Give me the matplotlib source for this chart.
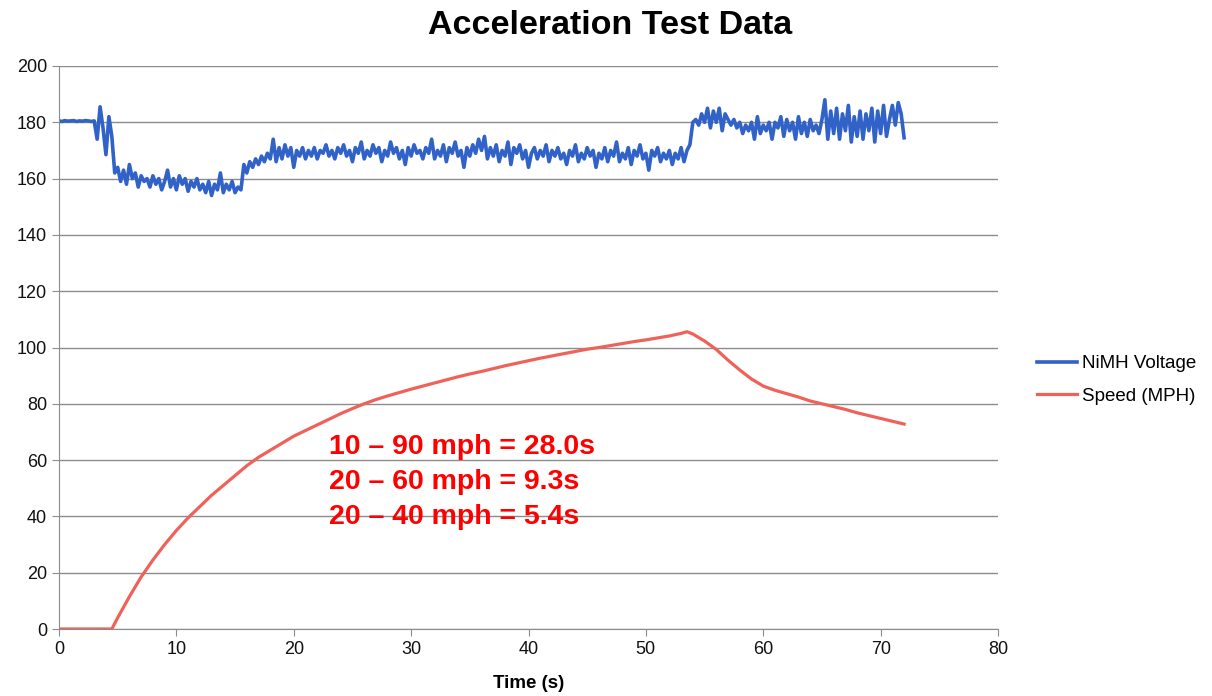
import numpy as np
import matplotlib
matplotlib.use("Agg")
import matplotlib.pyplot as plt

plt.rcParams['font.family'] = ['Liberation Sans', 'DejaVu Sans']

# speed trace (s, mph)
speed_t = [0, 1, 2, 3, 4, 4.5, 5, 6, 7, 8, 9, 10, 11, 12, 13, 14, 15, 16, 17, 18, 19, 20,
           21, 22, 23, 24, 25, 26, 27, 28, 29, 30, 31, 32, 33, 34, 35, 36, 37, 38, 39, 40,
           41, 42, 43, 44, 45, 46, 47, 48, 49, 50, 51, 52, 53, 53.5, 54, 55, 56, 57, 58, 59,
           60, 61, 62, 63, 64, 65, 66, 67, 68, 69, 70, 71, 72]
speed_v = [0, 0, 0, 0, 0, 0, 4, 11.5, 18.5, 24.5, 30, 35, 39.5, 43.5, 47.5, 51, 54.5, 58, 61, 63.5, 66, 68.5,
           70.5, 72.5, 74.5, 76.5, 78.3, 80, 81.5, 82.8, 84, 85.2, 86.3, 87.4, 88.5, 89.6, 90.6, 91.5, 92.5, 93.5, 94.4, 95.3,
           96.2, 97, 97.8, 98.6, 99.4, 100, 100.7, 101.4, 102.1, 102.7, 103.4, 104.1, 105, 105.6, 104.8, 102.3, 99.3, 95.5, 92, 88.8,
           86.3, 84.8, 83.6, 82.4, 81, 80, 79, 78, 76.8, 75.8, 74.8, 73.8, 72.8]

# NiMH pack voltage, sampled every 0.25 s from 0 to 72 s
volt_v = [
    180.5, 180.3, 180.6, 180.4, 180.5, 180.6, 180.3, 180.5, 180.4, 180.6, 180.5, 180.3, 180.5,
    174, 185.5, 178, 168.5, 182, 175, 162,
    164, 159, 163, 158, 165, 160, 162, 157, 161, 159, 160, 157, 161, 158, 160, 156,
    159, 163, 157, 160, 156, 161, 158, 160, 155.5, 159, 157, 160, 156, 158, 155, 159,
    154, 158, 156, 162, 155, 158, 156, 159, 155, 157, 156,
    165, 162, 166, 164, 167, 165, 168, 166, 169, 167, 174, 166, 171, 167, 172, 168, 171,
    164, 170, 168, 171, 167, 170, 168, 171, 167, 170, 169, 172, 168, 170, 167, 171, 169,
    172, 168, 170, 166, 171, 169, 173, 167, 170, 168, 172, 169, 171, 166, 170, 168, 173,
    169, 171, 167, 170, 165, 171, 168, 172, 169, 170, 167, 171, 169, 174, 167, 170, 168,
    172, 166, 171, 169, 173, 168, 170, 164, 171, 168, 172, 169, 174, 170, 175, 167, 171,
    168, 172, 166, 170, 168, 173, 165, 171, 169, 172, 167, 170, 164, 169, 171, 167, 170,
    168, 172, 166, 170, 168, 171, 167, 169, 165, 170, 168, 172, 166, 169, 167, 171, 168,
    170, 164, 169, 167, 171, 166, 170, 168, 173, 166, 169, 167, 171, 165, 170, 168, 172,
    167, 169, 163, 170, 168, 171, 166, 169, 167, 170, 165, 169, 167, 171, 166, 170,
    172, 180, 181, 179, 183, 180, 185, 178, 184, 180, 185, 177, 183, 181, 179, 181, 178,
    180, 176, 179, 177, 180, 174, 182, 176, 179, 177, 180, 174, 180, 178, 182, 175, 181,
    177, 180, 174, 182, 176, 180, 175, 181, 177, 179, 176, 181, 188, 174, 184, 176, 185,
    174, 183, 177, 186, 173, 182, 175, 184, 174, 183, 177, 185, 173, 184, 176, 186, 175,
    181, 186, 179, 187, 183, 174.5]
volt_t = np.arange(len(volt_v)) * 0.25

notes = ["10 \u2013 90 mph = 28.0s", "20 \u2013 60 mph = 9.3s", "20 \u2013 40 mph = 5.4s"]

fig = plt.figure(figsize=(12.12, 6.96), dpi=100)
ax = fig.add_axes([59 / 1212, 1 - 629 / 696, (998 - 59) / 1212, (629 - 66) / 696])

ax.plot(volt_t, volt_v, color='#3062C8', lw=2.6, label='NiMH Voltage')
ax.plot(speed_t, speed_v, color='#EE625A', lw=2.3, label='Speed (MPH)')

ax.set_xlim(0, 80)
ax.set_ylim(0, 200)
ax.set_xticks(range(0, 81, 10))
ax.set_yticks(range(0, 201, 20))
ax.yaxis.grid(True, color='#8c8c8c', lw=1)
ax.set_axisbelow(True)
for s in ['top', 'right']:
    ax.spines[s].set_visible(False)
for s in ['left', 'bottom']:
    ax.spines[s].set_color('#8c8c8c')
ax.tick_params(axis='both', labelsize=13, colors='#8c8c8c', labelcolor='#111111', length=5)

fig.text(529 / 1212, 1 - 683 / 696, 'Time (s)', ha='center', va='center',
         fontsize=13.5, fontweight='bold')
fig.text(610 / 1212, 1 - 25 / 696, 'Acceleration Test Data', ha='center', va='center',
         fontsize=24.5, fontweight='bold')

for i, n in enumerate(notes):
    ax.text(23.0, 64.5 - i * 12.3, n, color='#FF0000', fontsize=20.5, fontweight='bold',
            va='center', ha='left')

ax.legend(loc='center left', bbox_to_anchor=((1037 - 59) / 939, (629 - 380) / 563),
          frameon=False, fontsize=13.5, borderpad=0, borderaxespad=0,
          handlelength=2.13, handletextpad=0.27, labelspacing=0.81)

fig.savefig('out.png', dpi=100)
